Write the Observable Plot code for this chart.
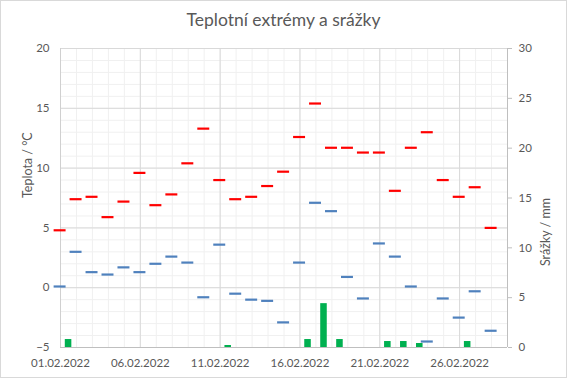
<!DOCTYPE html>
<html><head><meta charset="utf-8">
<script src="https://cdn.jsdelivr.net/npm/d3@7"></script>
<script src="https://cdn.jsdelivr.net/npm/@observablehq/plot@0.6"></script>
<style>
body{margin:0;background:#fff;}
#wrap{position:relative;width:567px;height:378px;overflow:hidden;font-family:Lato,sans-serif;}
#title{position:absolute;left:0;top:0;width:567px;height:40px;line-height:40px;text-align:center;font-size:17.5px;color:#595959;}
#plot{position:absolute;left:0;top:40px;}
#frame{position:absolute;left:0;top:0;width:567px;height:378px;box-sizing:border-box;border:1px solid #d9d9d9;pointer-events:none;}
</style></head>
<body>
<div id="wrap"><div id="title">Teplotní extrémy a srážky</div><div id="plot"></div><div id="frame"></div></div>
<script>
const days = ["2022-02-01","2022-02-02","2022-02-03","2022-02-04","2022-02-05","2022-02-06","2022-02-07","2022-02-08","2022-02-09","2022-02-10","2022-02-11","2022-02-12","2022-02-13","2022-02-14","2022-02-15","2022-02-16","2022-02-17","2022-02-18","2022-02-19","2022-02-20","2022-02-21","2022-02-22","2022-02-23","2022-02-24","2022-02-25","2022-02-26","2022-02-27","2022-02-28"];
const tmax = [4.8,7.4,7.6,5.9,7.2,9.6,6.9,7.8,10.4,13.3,9.0,7.4,7.6,8.5,9.7,12.6,15.4,11.7,11.7,11.3,11.3,8.1,11.7,13.0,9.0,7.6,8.4,5.0];
const tmin = [0.1,3.0,1.3,1.1,1.7,1.3,2.0,2.6,2.1,-0.8,3.6,-0.5,-1.0,-1.1,-2.9,2.1,7.1,6.4,0.9,-0.9,3.7,2.6,0.1,-4.5,-0.9,-2.5,-0.3,-3.6];
const precip = [0.8,0,0,0,0,0,0,0,0,0,0.2,0,0,0,0,0.8,4.4,0.8,0,0,0.6,0.6,0.4,0,0,0.6,0,0];
const xTicks = ["2022-02-01","2022-02-06","2022-02-11","2022-02-16","2022-02-21","2022-02-26"];
const xDomain = ["2022-02-01","2022-03-01"];
const tempTicks = [-5,0,5,10,15,20];
const mmTicks = [0,5,10,15,20,25,30];

const DAY = 864e5;
const parse = s => new Date(s + "T00:00:00Z");
const [tLo, tHi] = [tempTicks[0], tempTicks[tempTicks.length-1]];
const mmHi = mmTicks[mmTicks.length-1];
const toT = mm => tLo + mm * (tHi - tLo) / mmHi;
const toMM = t => (t - tLo) * mmHi / (tHi - tLo);

const data = days.map((d,i) => ({date: parse(d), tmax: tmax[i], tmin: tmin[i], p: precip[i]}));
const dom = xDomain.map(parse);
const allDays = d3.utcDay.range(dom[0], new Date(+dom[1] + 1));
const minorT = d3.range(tLo, tHi + 1, 1);
const shift = (d, f) => new Date(+d.date + f * DAY);

const chart = Plot.plot({
  width: 567, height: 338,
  marginTop: 8, marginLeft: 60, marginRight: 60, marginBottom: 31,
  style: {fontFamily: "Lato, sans-serif", fontSize: "11.5px", color: "#595959", background: "transparent"},
  x: {type: "utc", domain: dom},
  y: {domain: [tLo, tHi]},
  marks: [
    Plot.gridY(minorT, {stroke: "#f0f0f0", strokeOpacity: 1}),
    Plot.gridX(allDays, {stroke: "#f0f0f0", strokeOpacity: 1}),
    Plot.gridY(tempTicks, {stroke: "#d9d9d9", strokeOpacity: 1}),
    Plot.gridX(xTicks.map(parse), {stroke: "#d9d9d9", strokeOpacity: 1}),
    Plot.ruleX([dom[0]], {stroke: "#d0d0d0"}),
    Plot.ruleX([dom[1]], {stroke: "#bfbfbf"}),
    Plot.ruleY([tLo], {stroke: "#bfbfbf"}),
    Plot.rect(data.filter(d => d.p > 0), {x1: d => shift(d, 0.3), x2: d => shift(d, 0.71), y1: tLo, y2: d => toT(d.p), fill: "#00b050"}),
    Plot.ruleY(data, {y: "tmax", x1: d => shift(d, -0.4), x2: d => shift(d, 0.35), stroke: "#ff0000", strokeWidth: 2.2}),
    Plot.ruleY(data, {y: "tmin", x1: d => shift(d, -0.4), x2: d => shift(d, 0.35), stroke: "#4f81bd", strokeWidth: 2.2}),
    Plot.axisY(tempTicks, {anchor: "left", tickSize: 0, tickPadding: 11, label: null}),
    Plot.axisY(mmTicks.map(toT), {anchor: "right", tickSize: 4, tickPadding: 7, stroke: "#bfbfbf", tickFormat: t => String(Math.round(toMM(t))), label: null}),
    Plot.axisX(xTicks.map(parse), {tickSize: 0, tickPadding: 11, tickFormat: d3.utcFormat("%d.%m.%Y"), label: null}),
    Plot.text(["Teplota / °C"], {frameAnchor: "left", dx: -33, rotate: -90, fontSize: 12.5, fill: "#595959"}),
    Plot.text(["Srážky / mm"], {frameAnchor: "right", dx: 38, rotate: -90, fontSize: 12.5, fill: "#595959"})
  ]
});
document.getElementById("plot").appendChild(chart);
</script>
</body></html>
